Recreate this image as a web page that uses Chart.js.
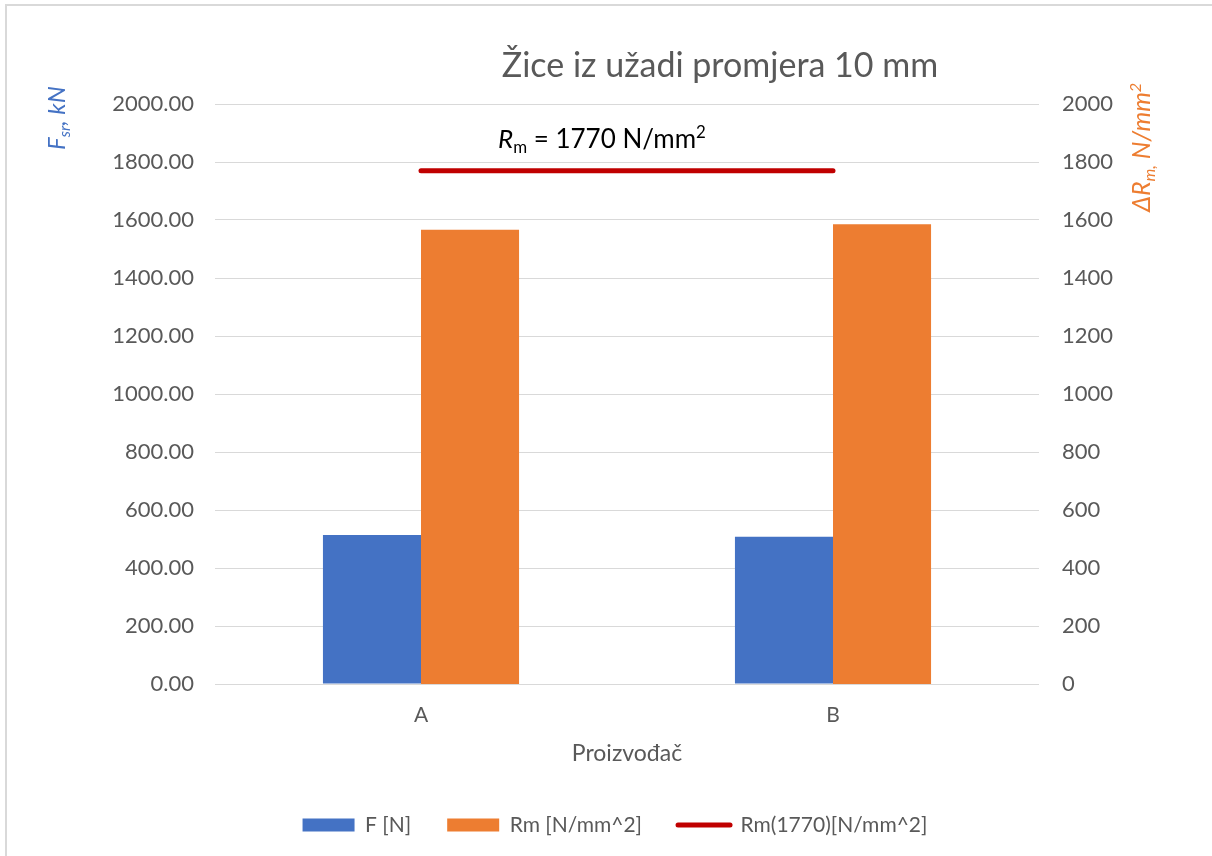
<!DOCTYPE html>
<html>

  <head>
    <meta charset="utf-8">
    <title>Žice iz užadi promjera 10 mm</title>
    <script src="https://cdn.jsdelivr.net/npm/chart.js@4.4.0/dist/chart.umd.min.js"></script>
    <style>
      html,
      body {
        margin: 0;
        padding: 0;
        background: #fff;
      }
    </style>
  </head>

  <body>
    <canvas id="myChart" width="1212" height="856"></canvas>

    <script>
      const categories = ['A', 'B'];
      const forceValues = [514, 508];      // F [N]
      const rmValues = [1566, 1585];       // Rm [N/mm^2]
      const rmLimit = [1770, 1770];        // Rm(1770)[N/mm^2]
      const leftTicks = { min: 0, max: 2000, step: 200 };

      const FONT = 'Lato';
      const GREY = '#595959';

      // draws a run of text pieces, some of them italic / sub / superscript
      function drawRich(ctx, parts, x, y, size, color) {
        let cx = x;
        ctx.fillStyle = color;
        ctx.textAlign = 'left';
        ctx.textBaseline = 'alphabetic';
        parts.forEach(p => {
          const s = (p.sub || p.sup) ? size * 0.65 : size;
          ctx.font = (p.italic ? 'italic ' : '') + s + 'px ' + FONT;
          const dy = p.sub ? size * 0.2 : p.sup ? -size * 0.38 : 0;
          ctx.fillText(p.t, cx, y + dy);
          cx += ctx.measureText(p.t).width;
        });
      }

      const decorations = {
        id: 'decorations',
        beforeDraw(chart) {
          const ctx = chart.ctx;
          ctx.save();
          ctx.fillStyle = '#fff';
          ctx.fillRect(0, 0, chart.width, chart.height);
          ctx.restore();
        },
        afterDraw(chart) {
          const ctx = chart.ctx;
          ctx.save();
          // chart frame
          ctx.strokeStyle = '#D9D9D9';
          ctx.lineWidth = 2;
          ctx.strokeRect(6, 5, 1400, 1000);

          // title
          ctx.fillStyle = GREY;
          ctx.font = '34px ' + FONT;
          ctx.textAlign = 'center';
          ctx.textBaseline = 'middle';
          ctx.fillText('Žice iz užadi promjera 10 mm', 720, 66);

          // label over the limit line
          drawRich(ctx, [
            { t: 'R', italic: true },
            { t: 'm', sub: true },
            { t: ' = ' + rmLimit[0] + ' N/mm' },
            { t: '2', sup: true }
          ], 498, 148, 26, '#000');

          // left axis title
          ctx.save();
          ctx.translate(65, 150);
          ctx.rotate(-Math.PI / 2);
          drawRich(ctx, [
            { t: 'F', italic: true },
            { t: 'sr', italic: true, sub: true },
            { t: ', kN', italic: true }
          ], 0, 0, 24, '#4472C4');
          ctx.restore();

          // right axis title
          ctx.save();
          ctx.translate(1150, 212);
          ctx.rotate(-Math.PI / 2);
          drawRich(ctx, [
            { t: 'ΔR', italic: true },
            { t: 'm,', italic: true, sub: true },
            { t: ' N/mm', italic: true },
            { t: '2', italic: true, sup: true }
          ], 0, 0, 25, '#ED7D31');
          ctx.restore();

          ctx.restore();
        }
      };

      const data = {
        labels: categories,
        datasets: [{
          type: 'line',
          label: 'Rm(1770)[N/mm^2]',
          data: rmLimit,
          yAxisID: 'y1',
          borderColor: '#C00000',
          backgroundColor: '#C00000',
          borderWidth: 5,
          borderCapStyle: 'round',
          pointRadius: 0,
          order: 0
        }, {
          label: 'F [N]',
          data: forceValues,
          yAxisID: 'y',
          backgroundColor: '#4472C4',
          order: 1
        }, {
          label: 'Rm [N/mm^2]',
          data: rmValues,
          yAxisID: 'y1',
          backgroundColor: '#ED7D31',
          order: 1
        }]
      };

      const config = {
        type: 'bar',
        data,
        plugins: [decorations],
        options: {
          responsive: false,
          animation: false,
          categoryPercentage: 0.476,
          barPercentage: 1,
          layout: {
            padding: { top: 104, left: 18, right: 0, bottom: 11.5 }
          },
          scales: {
            x: {
              afterFit(scale) { scale.height = 94.5; },
              grid: { display: false, drawTicks: false },
              border: { display: false },
              ticks: {
                color: GREY,
                padding: 19,
                font: { family: FONT, size: 21 }
              },
              title: {
                display: true,
                text: 'Proizvođač',
                color: GREY,
                font: { family: FONT, size: 23 },
                padding: { top: 4, bottom: 11 }
              }
            },
            y: {
              position: 'left',
              min: leftTicks.min,
              max: leftTicks.max,
              afterFit(scale) { scale.width = 197; },
              grid: { color: '#D9D9D9', lineWidth: 1, drawTicks: false },
              border: { display: false },
              ticks: {
                stepSize: leftTicks.step,
                color: GREY,
                padding: 21,
                font: { family: FONT, size: 22 },
                callback: v => v.toFixed(2)
              }
            },
            y1: {
              position: 'right',
              min: leftTicks.min,
              max: leftTicks.max,
              afterFit(scale) { scale.width = 173; },
              grid: { display: false, drawTicks: false },
              border: { display: false },
              ticks: {
                stepSize: leftTicks.step,
                color: GREY,
                padding: 23,
                font: { family: FONT, size: 22 },
                callback: v => String(v)
              }
            }
          },
          plugins: {
            title: { display: false },
            tooltip: { enabled: false },
            legend: {
              position: 'bottom',
              maxHeight: 66,
              labels: {
                usePointStyle: true,
                pointStyleWidth: 52,
                boxHeight: 13,
                padding: 36,
                color: GREY,
                font: { family: FONT, size: 21 },
                generateLabels(chart) {
                  // bars first, limit line last
                  const order = [1, 2, 0];
                  return order.map(i => {
                    const ds = chart.data.datasets[i];
                    const isLine = ds.type === 'line';
                    return {
                      text: ds.label,
                      fillStyle: ds.backgroundColor,
                      strokeStyle: isLine ? ds.borderColor : ds.backgroundColor,
                      lineWidth: isLine ? 5 : 0,
                      lineCap: 'round',
                      pointStyle: isLine ? 'line' : 'rect',
                      fontColor: GREY,
                      hidden: false,
                      datasetIndex: i
                    };
                  });
                }
              }
            }
          }
        }
      };

      const myChart = new Chart(
        document.getElementById('myChart'),
        config
      );
    </script>

  </body>

</html>
